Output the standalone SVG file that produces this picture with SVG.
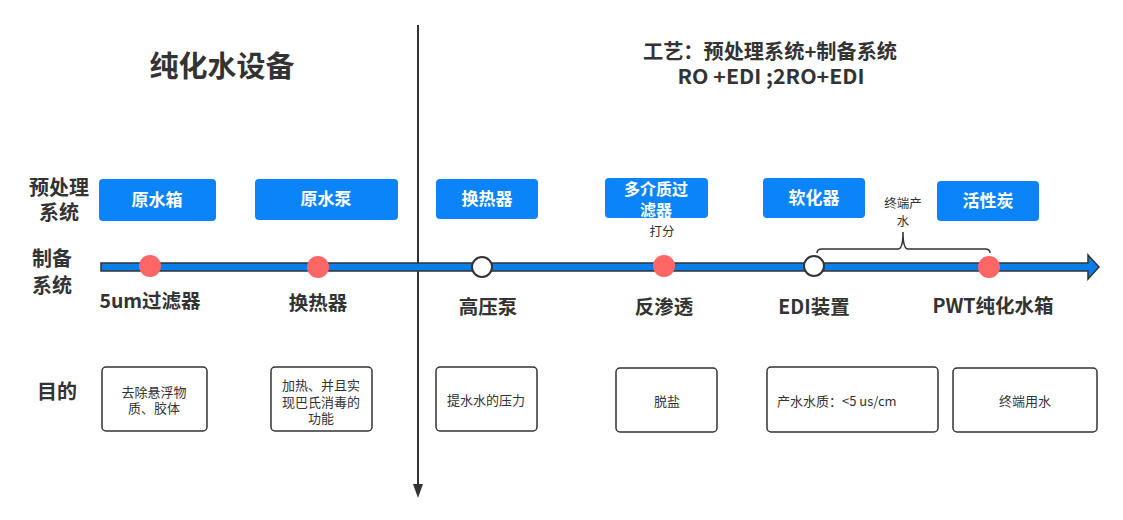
<svg xmlns="http://www.w3.org/2000/svg" width="1123" height="520" viewBox="0 0 1123 520">
<style>
text{font-family:"Noto Sans CJK SC","Noto Sans",sans-serif;fill:#333;}
.h{font-weight:bold;font-size:19.5px;text-anchor:middle;}
.r{font-size:20px;}
.bl rect{fill:#0a84f8;}
.bl text{fill:#fff;font-weight:bold;font-size:17px;text-anchor:middle;}
.wb rect{fill:#fff;stroke:#333;stroke-width:1.5;}
.wb text{font-size:13px;text-anchor:middle;}
.sm{font-size:12.5px;text-anchor:middle;}
.red{fill:#ff6666;}
.wht{fill:#fff;stroke:#333;stroke-width:2;}
</style>
<rect width="1123" height="520" fill="#fff"/>
<g id="title">
<text x="222" y="77" class="h" style="font-size:29px">纯化水设备</text>
<text x="770" y="59" class="h" style="font-size:20px" textLength="254" lengthAdjust="spacingAndGlyphs">工艺：预处理系统+制备系统</text>
<text x="771" y="84" class="h" style="font-size:20px" textLength="187" lengthAdjust="spacingAndGlyphs">RO +EDI ;2RO+EDI</text>
</g>
<g id="row-labels">
<text x="59" y="195" class="h r">预处理</text>
<text x="59" y="220" class="h r">系统</text>
<text x="52" y="266" class="h r">制备</text>
<text x="52" y="293" class="h r">系统</text>
<text x="57" y="399" class="h r">目的</text>
</g>
<g id="connectors">
<line x1="418" y1="25" x2="418" y2="486" stroke="#333" stroke-width="2"/>
<polygon points="413,484 423,484 418,498" fill="#333"/>
<path d="M101,263 H1088 V255 L1099,267 L1088,279 V271 H101 Z" fill="#0a7ee8" stroke="#333" stroke-width="1.5"/>
<path d="M817,253 Q817,249 822,249 H898 Q903,249 903,232 Q903,249 908,249 H985 Q990,249 990,253" fill="none" stroke="#333" stroke-width="1.5"/>
</g>
<g id="pre-yuanshuixiang" class="bl"><rect x="99" y="179" width="117" height="42" rx="4"/><text x="157" y="206">原水箱</text></g>
<g id="pre-yuanshuibeng" class="bl"><rect x="255" y="179" width="143" height="41" rx="4"/><text x="326" y="205">原水泵</text></g>
<g id="pre-huanreqi" class="bl"><rect x="436" y="179" width="102" height="40" rx="4"/><text x="487" y="205">换热器</text></g>
<g id="pre-duojiezhi" class="bl"><rect x="605" y="178" width="103" height="40" rx="4"/><text x="656" y="195" style="font-size:16px">多介质过</text><text x="656" y="216" style="font-size:16px">滤器</text></g>
<g id="pre-ruanhuaqi" class="bl"><rect x="763" y="178" width="102" height="40" rx="4"/><text x="814" y="204">软化器</text></g>
<g id="pre-huoxingtan" class="bl"><rect x="937" y="181" width="102" height="40" rx="4"/><text x="988" y="207">活性炭</text></g>
<g id="note-dafen"><text x="662" y="236" class="sm">打分</text></g>
<g id="note-zhongduan"><text x="903" y="208" class="sm">终端产</text><text x="903" y="226" class="sm">水</text></g>
<g id="p1"><circle cx="150" cy="266" r="11" class="red"/><text x="150" y="308" class="h">5um过滤器</text></g>
<g id="p2"><circle cx="318" cy="267" r="11" class="red"/><text x="318" y="310" class="h">换热器</text></g>
<g id="p3"><circle cx="482" cy="267" r="10" class="wht"/><text x="488" y="314" class="h">高压泵</text></g>
<g id="p4"><circle cx="664" cy="266" r="11" class="red"/><text x="664" y="314" class="h">反渗透</text></g>
<g id="p5"><circle cx="814" cy="266" r="10" class="wht"/><text x="814" y="314" class="h">EDI装置</text></g>
<g id="p6"><circle cx="989" cy="267" r="11" class="red"/><text x="993" y="313" class="h">PWT纯化水箱</text></g>
<g id="g1" class="wb"><rect x="102" y="367" width="105" height="64" rx="4"/><text x="154" y="397">去除悬浮物</text><text x="154" y="413">质、胶体</text></g>
<g id="g2" class="wb"><rect x="271" y="367" width="101" height="64" rx="4"/><text x="321" y="390">加热、并且实</text><text x="321" y="407">现巴氏消毒的</text><text x="321" y="423">功能</text></g>
<g id="g3" class="wb"><rect x="436" y="367" width="101" height="64" rx="4"/><text x="486" y="405">提水水的压力</text></g>
<g id="g4" class="wb"><rect x="616" y="368" width="101" height="64" rx="4"/><text x="667" y="406">脱盐</text></g>
<g id="g5" class="wb"><rect x="767" y="367" width="171" height="65" rx="4"/><text x="777" y="406" style="text-anchor:start">产水水质：&lt;5 us/cm</text></g>
<g id="g6" class="wb"><rect x="953" y="368" width="144" height="64" rx="4"/><text x="1025" y="406">终端用水</text></g>
</svg>
